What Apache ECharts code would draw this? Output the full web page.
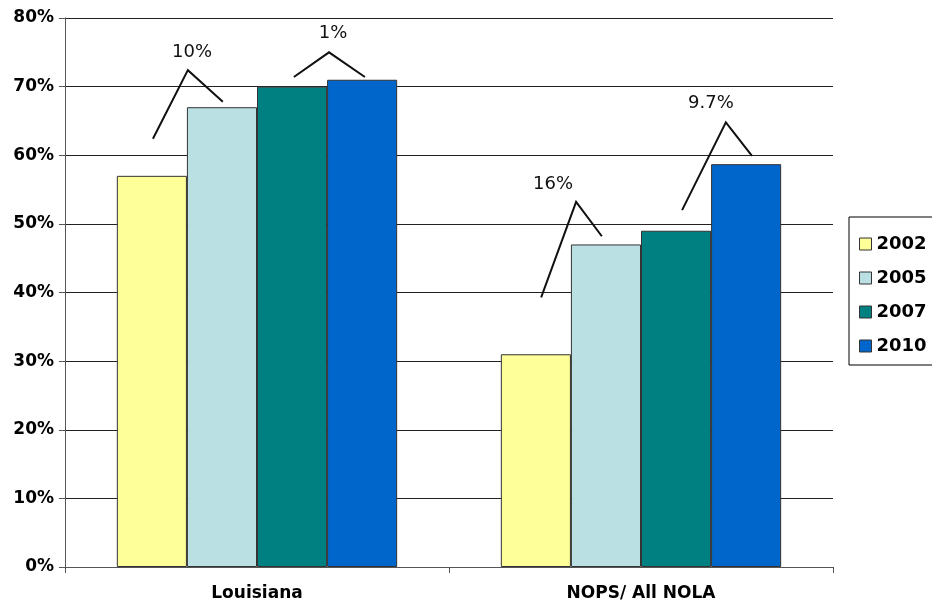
<!DOCTYPE html>
<html><head><meta charset="utf-8">
<script src="https://cdn.jsdelivr.net/npm/echarts@6/dist/echarts.min.js"></script>
<style>html,body{margin:0;padding:0;background:#fff}#c{width:932px;height:606px}</style>
</head><body><div id="c"></div>
<script>
const categories = ['Louisiana', 'NOPS/ All NOLA'];
const years = ['2002', '2005', '2007', '2010'];
const v2002 = [57, 31];
const v2005 = [67, 47];
const v2007 = [70, 49];
const v2010 = [71, 58.7];
const yTicks = [0, 10, 20, 30, 40, 50, 60, 70, 80];
// annotation texts and their caret-shaped connector points (x in category-band units, y in %)
const noteLabels = ['10%', '1%', '16%', '9.7%'];
const noteX = [[0.229, 0.320, 0.411, 0.331], [0.596, 0.6875, 0.781, 0.698], [1.240, 1.331, 1.398, 1.271], [1.607, 1.721, 1.789, 1.682]];
const noteY = [[62.4, 72.4, 67.8, 75.0], [71.4, 75.0, 71.4, 77.7], [39.3, 53.2, 48.2, 55.7], [52.0, 64.8, 59.9, 67.5]];

const colors = ['#FFFF99', '#BBE0E3', '#008080', '#0066CC'];
const seriesVals = [v2002, v2005, v2007, v2010];
const noteData = noteX.map((xs, i) => [xs[0], noteY[i][0], xs[1], noteY[i][1], xs[2], noteY[i][2], xs[3], noteY[i][3]]);

const chart = echarts.init(document.getElementById('c'));
const bars = years.map((y, i) => ({
  name: y, type: 'bar', data: seriesVals[i], barGap: 0, barCategoryGap: '27%',
  itemStyle: { color: colors[i], borderColor: '#333', borderWidth: 1 },
  xAxisIndex: 0, yAxisIndex: 0
}));
chart.setOption({
  animation: false,
  textStyle: { fontFamily: 'DejaVu Sans' },
  grid: { left: 65, right: 99, top: 18, bottom: 39 },
  legend: {
    data: years, orient: 'vertical', left: 849, top: 217,
    borderColor: '#000', borderWidth: 1, padding: [18, 30, 10, 10],
    itemWidth: 12, itemHeight: 12, itemGap: 16, icon: 'rect',
    textStyle: { fontFamily: 'DejaVu Sans', fontWeight: 'bold', fontSize: 18, color: '#000', lineHeight: 16 },
    itemStyle: { borderColor: '#333', borderWidth: 1 }
  },
  xAxis: [{
    type: 'category', data: categories,
    axisLine: { lineStyle: { color: '#555', width: 1 } },
    axisTick: { show: true, length: 6, lineStyle: { color: '#555' } },
    axisLabel: { color: '#000', fontWeight: 'bold', fontSize: 17, margin: 18, fontFamily: 'DejaVu Sans' }
  }, {
    type: 'value', min: 0, max: 2, show: false
  }],
  yAxis: {
    type: 'value', min: 0, max: 80, interval: 10,
    axisLine: { show: true, lineStyle: { color: '#555', width: 1 } },
    axisTick: { show: true, length: 6, lineStyle: { color: '#555' } },
    axisLabel: { color: '#000', fontWeight: 'bold', fontSize: 17, margin: 11, fontFamily: 'DejaVu Sans',
      formatter: v => (yTicks.indexOf(v) >= 0 ? v + '%' : '') },
    splitLine: { show: true, lineStyle: { color: '#222', width: 1 } }
  },
  series: bars.concat([{
    type: 'custom', xAxisIndex: 1, yAxisIndex: 0, clip: false, silent: true,
    data: noteData,
    renderItem: function (params, api) {
      const p1 = api.coord([api.value(0), api.value(1)]);
      const p2 = api.coord([api.value(2), api.value(3)]);
      const p3 = api.coord([api.value(4), api.value(5)]);
      const pl = api.coord([api.value(6), api.value(7)]);
      return {
        type: 'group', children: [
          { type: 'polyline', shape: { points: [p1, p2, p3] }, style: { stroke: '#111', lineWidth: 2, fill: null } },
          { type: 'text', x: pl[0], y: pl[1], style: { text: noteLabels[params.dataIndex], fill: '#111',
            font: '18px "DejaVu Sans"', align: 'center', verticalAlign: 'middle' } }
        ]
      };
    }
  }])
});
</script></body></html>
